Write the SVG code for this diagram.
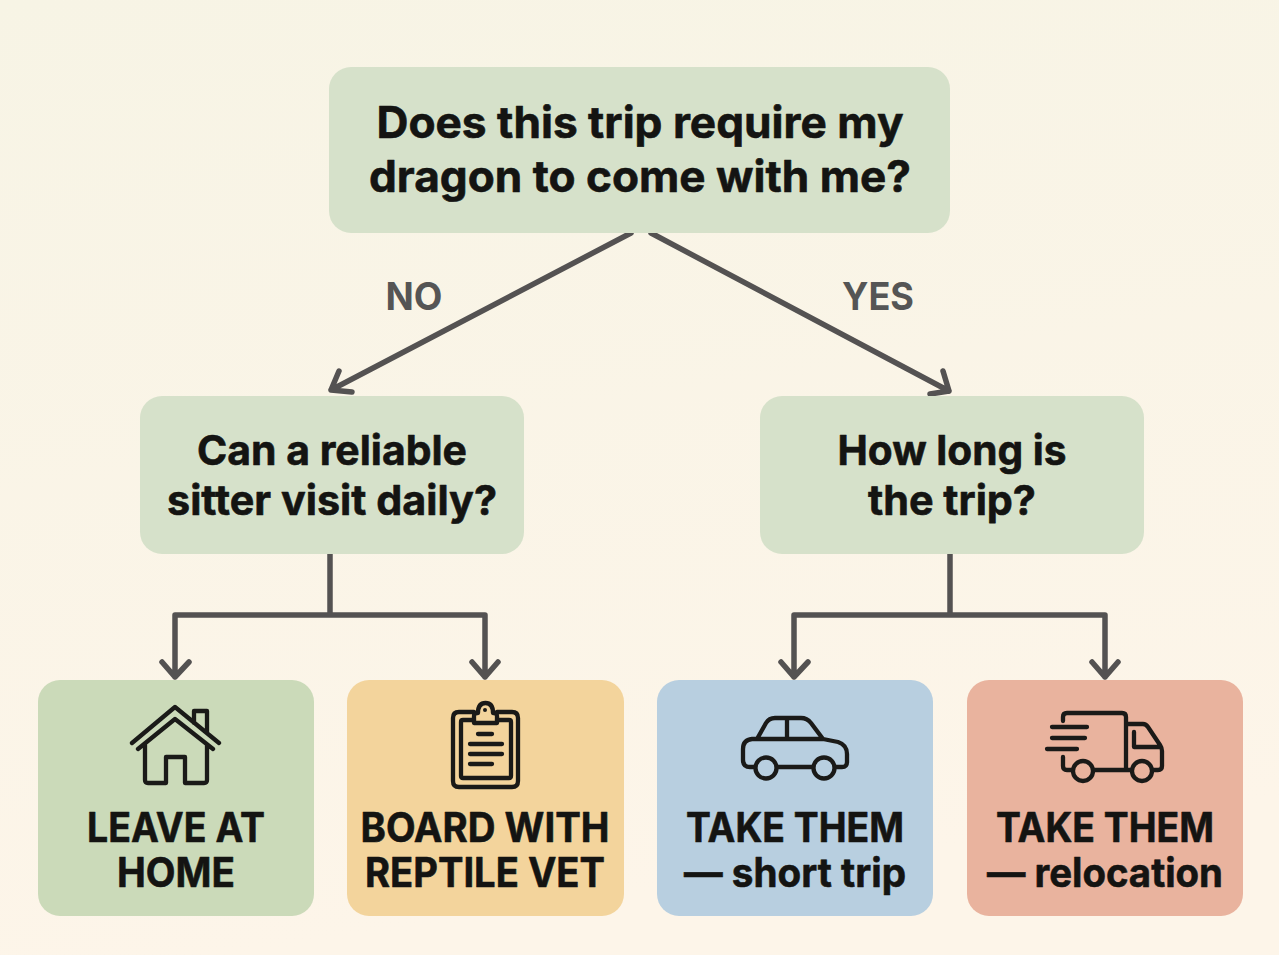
<svg xmlns="http://www.w3.org/2000/svg" width="1279" height="955" viewBox="0 0 1279 955">
<style>
.t{font-family:Inter,"Liberation Sans",sans-serif;font-weight:700;fill:#141412;stroke:#141412;stroke-width:.6;stroke-linejoin:round;text-anchor:middle}
.q1{font-size:44px}.q2{font-size:41.500px}.r{font-size:40.500px}
.lb{font-family:Inter,"Liberation Sans",sans-serif;font-weight:700;font-size:38px;fill:#555;text-anchor:middle}
.c{fill:none;stroke:#545252;stroke-width:5.500;stroke-linecap:round;stroke-linejoin:round}
.i{fill:none;stroke:#1a1a18;stroke-width:4.300;stroke-linecap:round;stroke-linejoin:round}
</style>
<defs><linearGradient id="bg" x1="0" y1="0" x2="0.2" y2="1"><stop offset="0" stop-color="#f7f4e5"/><stop offset="1" stop-color="#fdf5e9"/></linearGradient></defs>
<rect width="1279" height="955" fill="url(#bg)"/>
<g id="connectors" class="c">
<path d="M631 233L331 390M331 390L352 392M331 390L339 371"/>
<path d="M651 233L949 391M949 391L930 394M949 391L943 371"/>
<path d="M330 554V615M175 677V615H485V677M162 662L175 677L189 662M472 662L485 677L498 662"/>
<path d="M950 554V615M794 677V615H1105V677M781 662L794 677L808 662M1092 662L1105 677L1118 662"/>
</g>
<text class="lb" x="414" y="310" textLength="57" lengthAdjust="spacingAndGlyphs">NO</text>
<text class="lb" x="878" y="310" textLength="72" lengthAdjust="spacingAndGlyphs">YES</text>
<g id="q-root"><rect x="329" y="67" width="621" height="166" rx="22" fill="#d6e1ca"/>
<text class="t q1" x="640" y="138" textLength="527" lengthAdjust="spacingAndGlyphs">Does this trip require my</text>
<text class="t q1" x="640" y="192" textLength="542" lengthAdjust="spacingAndGlyphs">dragon to come with me?</text></g>
<g id="q-sitter"><rect x="140" y="396" width="384" height="158" rx="22" fill="#d6e1ca"/>
<text class="t q2" x="332" y="465" textLength="270" lengthAdjust="spacingAndGlyphs">Can a reliable</text>
<text class="t q2" x="332" y="515" textLength="330" lengthAdjust="spacingAndGlyphs">sitter visit daily?</text></g>
<g id="q-long"><rect x="760" y="396" width="384" height="158" rx="22" fill="#d6e1ca"/>
<text class="t q2" x="952" y="465" textLength="229" lengthAdjust="spacingAndGlyphs">How long is</text>
<text class="t q2" x="952" y="515" textLength="168" lengthAdjust="spacingAndGlyphs">the trip?</text></g>
<g id="leave"><rect x="38" y="680" width="276" height="236" rx="22" fill="#cbdab9"/>
<g class="i"><path d="M132 743L175 707L219 743M138 749L175 719L213 749M145 745V780Q145 783 148 783H166V757H185V783H204Q207 783 207 780V745M194 723V711H207V732"/></g>
<text class="t r" x="176" y="842" textLength="178" lengthAdjust="spacingAndGlyphs">LEAVE AT</text>
<text class="t r" x="176" y="887" textLength="118" lengthAdjust="spacingAndGlyphs">HOME</text></g>
<g id="board"><rect x="347" y="680" width="277" height="236" rx="22" fill="#f3d49c"/>
<g class="i"><path d="M474 712H459Q453 712 453 718V781Q453 787 459 787H512Q518 787 518 781V718Q518 712 512 712H497"/><path d="M474 720H463Q461 720 461 722V776Q461 778 463 778H509Q511 778 511 776V722Q511 720 509 720H497"/><path d="M474 723V716Q474 713 477 713H478Q478 703 485.500 703Q493 703 493 713H494Q497 713 497 716V723Z"/><path d="M478 734H492M470 744H502M470 754H502M470 764H492"/></g>
<circle cx="485" cy="710" r="2" fill="#1a1a18"/>
<text class="t r" x="485" y="842" textLength="249" lengthAdjust="spacingAndGlyphs">BOARD WITH</text>
<text class="t r" x="485" y="887" textLength="240" lengthAdjust="spacingAndGlyphs">REPTILE VET</text></g>
<g id="short"><rect x="657" y="680" width="276" height="236" rx="22" fill="#b8cfe0"/>
<g class="i"><circle cx="766" cy="768" r="10.500"/><circle cx="824" cy="768" r="10.500"/><path d="M755 767H750Q743 767 743 760V749Q743 740 752 739H823L838 742Q847 745 847 754V762Q847 767 842 767H835M777 767H813M757 739L766 723Q769 718 775 718H801Q807 718 811 723L823 739M787 718V739"/></g>
<text class="t r" x="795" y="842" textLength="218" lengthAdjust="spacingAndGlyphs">TAKE THEM</text>
<text class="t r" x="795" y="887" textLength="222" lengthAdjust="spacingAndGlyphs">— short trip</text></g>
<g id="reloc"><rect x="967" y="680" width="276" height="236" rx="22" fill="#e9b39e"/>
<g class="i"><circle cx="1083" cy="771" r="10"/><circle cx="1142" cy="771" r="10"/><path d="M1063 721V717Q1063 713 1067 713H1122Q1126 713 1126 717V770M1094 770H1132M1126 724H1143Q1146 724 1148 727L1160 745Q1162 748 1162 751V766Q1162 770 1158 770H1152M1134 732V747H1160M1063 757V766Q1063 770 1067 770H1072M1052 727H1087M1052 738H1085M1047 749H1077"/></g>
<text class="t r" x="1105" y="842" textLength="218" lengthAdjust="spacingAndGlyphs">TAKE THEM</text>
<text class="t r" x="1105" y="887" textLength="236" lengthAdjust="spacingAndGlyphs">— relocation</text></g>
</svg>
